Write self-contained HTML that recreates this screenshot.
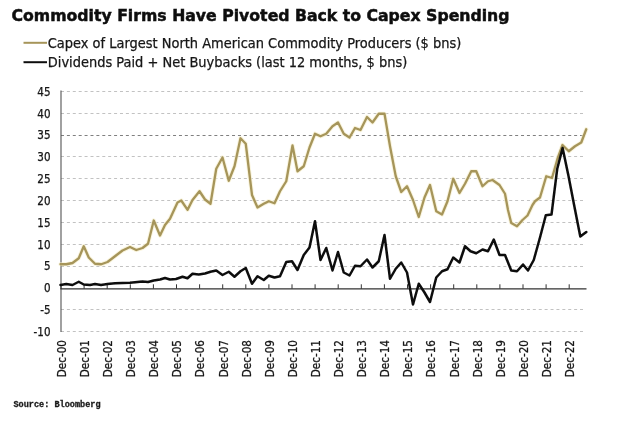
<!DOCTYPE html>
<html><head><meta charset="utf-8"><title>Commodity Firms Have Pivoted Back to Capex Spending</title>
<style>
html,body{margin:0;padding:0;background:#fff;}
body{width:620px;height:422px;overflow:hidden;}
svg{display:block;}
.t{font-family:"DejaVu Sans","Liberation Sans",sans-serif;font-weight:bold;fill:#0a0a0a;stroke:#0a0a0a;stroke-width:0.45;}
.l{font-family:"DejaVu Sans Condensed","DejaVu Sans","Liberation Sans",sans-serif;fill:#151515;stroke:#151515;stroke-width:0.25;}
.s{font-family:"Liberation Mono","DejaVu Sans Mono",monospace;font-weight:bold;fill:#1a1a1a;stroke:#1a1a1a;stroke-width:0.3;}
</style></head><body>
<svg width="620" height="422" viewBox="0 0 620 422">
<defs><filter id="soft" x="-2%" y="-2%" width="104%" height="104%"><feGaussianBlur stdDeviation="0.4"/></filter></defs>
<rect width="620" height="422" fill="#ffffff"/>
<g filter="url(#soft)">
<text class="t" x="11.5" y="20.5" font-size="15.5" textLength="498" lengthAdjust="spacingAndGlyphs">Commodity Firms Have Pivoted Back to Capex Spending</text>
<line x1="23.5" y1="42.8" x2="47" y2="42.8" stroke="#a6955a" stroke-width="2"/>
<text class="l" x="47.8" y="47.5" font-size="14.4" textLength="413.5" lengthAdjust="spacingAndGlyphs">Capex of Largest North American Commodity Producers ($ bns)</text>
<line x1="23.5" y1="62.2" x2="47" y2="62.2" stroke="#111" stroke-width="2"/>
<text class="l" x="47.8" y="67" font-size="14.4" textLength="359.5" lengthAdjust="spacingAndGlyphs">Dividends Paid + Net Buybacks (last 12 months, $ bns)</text>
<line x1="61" y1="331.5" x2="583" y2="331.5" stroke="#c2c2c2" stroke-width="1" stroke-dasharray="3 2.898"/>
<line x1="61" y1="309.5" x2="583" y2="309.5" stroke="#c2c2c2" stroke-width="1" stroke-dasharray="3 2.898"/>
<line x1="61" y1="266.5" x2="583" y2="266.5" stroke="#c2c2c2" stroke-width="1" stroke-dasharray="3 2.898"/>
<line x1="61" y1="244.5" x2="583" y2="244.5" stroke="#c2c2c2" stroke-width="1" stroke-dasharray="3 2.898"/>
<line x1="61" y1="222.5" x2="583" y2="222.5" stroke="#c2c2c2" stroke-width="1" stroke-dasharray="3 2.898"/>
<line x1="61" y1="200.5" x2="583" y2="200.5" stroke="#c2c2c2" stroke-width="1" stroke-dasharray="3 2.898"/>
<line x1="61" y1="178.5" x2="583" y2="178.5" stroke="#c2c2c2" stroke-width="1" stroke-dasharray="3 2.898"/>
<line x1="61" y1="156.5" x2="583" y2="156.5" stroke="#c2c2c2" stroke-width="1" stroke-dasharray="3 2.898"/>
<line x1="61" y1="135.5" x2="583" y2="135.5" stroke="#808080" stroke-width="1" stroke-dasharray="3 2.898"/>
<line x1="61" y1="113.5" x2="583" y2="113.5" stroke="#c2c2c2" stroke-width="1" stroke-dasharray="3 2.898"/>
<line x1="61" y1="91.5" x2="583" y2="91.5" stroke="#c2c2c2" stroke-width="1" stroke-dasharray="3 2.898"/>
<text class="l" x="50.5" y="335.7" font-size="11.5" text-anchor="end">-10</text>
<text class="l" x="50.5" y="313.9" font-size="11.5" text-anchor="end">-5</text>
<text class="l" x="50.5" y="292.1" font-size="11.5" text-anchor="end">0</text>
<text class="l" x="50.5" y="270.3" font-size="11.5" text-anchor="end">5</text>
<text class="l" x="50.5" y="248.5" font-size="11.5" text-anchor="end">10</text>
<text class="l" x="50.5" y="226.6" font-size="11.5" text-anchor="end">15</text>
<text class="l" x="50.5" y="204.8" font-size="11.5" text-anchor="end">20</text>
<text class="l" x="50.5" y="183.0" font-size="11.5" text-anchor="end">25</text>
<text class="l" x="50.5" y="161.2" font-size="11.5" text-anchor="end">30</text>
<text class="l" x="50.5" y="139.4" font-size="11.5" text-anchor="end">35</text>
<text class="l" x="50.5" y="117.5" font-size="11.5" text-anchor="end">40</text>
<text class="l" x="50.5" y="95.7" font-size="11.5" text-anchor="end">45</text>
<line x1="61" y1="90.5" x2="61" y2="332.0" stroke="#555" stroke-width="1.1"/>
<line x1="60.4" y1="288.8" x2="586.5" y2="288.8" stroke="#333" stroke-width="1.2"/>
<line x1="61.0" y1="288.8" x2="61.0" y2="284.3" stroke="#333" stroke-width="1"/>
<line x1="84.1" y1="288.8" x2="84.1" y2="284.3" stroke="#333" stroke-width="1"/>
<line x1="107.2" y1="288.8" x2="107.2" y2="284.3" stroke="#333" stroke-width="1"/>
<line x1="130.3" y1="288.8" x2="130.3" y2="284.3" stroke="#333" stroke-width="1"/>
<line x1="153.4" y1="288.8" x2="153.4" y2="284.3" stroke="#333" stroke-width="1"/>
<line x1="176.5" y1="288.8" x2="176.5" y2="284.3" stroke="#333" stroke-width="1"/>
<line x1="199.6" y1="288.8" x2="199.6" y2="284.3" stroke="#333" stroke-width="1"/>
<line x1="222.7" y1="288.8" x2="222.7" y2="284.3" stroke="#333" stroke-width="1"/>
<line x1="245.8" y1="288.8" x2="245.8" y2="284.3" stroke="#333" stroke-width="1"/>
<line x1="268.9" y1="288.8" x2="268.9" y2="284.3" stroke="#333" stroke-width="1"/>
<line x1="292.0" y1="288.8" x2="292.0" y2="284.3" stroke="#333" stroke-width="1"/>
<line x1="315.1" y1="288.8" x2="315.1" y2="284.3" stroke="#333" stroke-width="1"/>
<line x1="338.2" y1="288.8" x2="338.2" y2="284.3" stroke="#333" stroke-width="1"/>
<line x1="361.3" y1="288.8" x2="361.3" y2="284.3" stroke="#333" stroke-width="1"/>
<line x1="384.4" y1="288.8" x2="384.4" y2="284.3" stroke="#333" stroke-width="1"/>
<line x1="407.5" y1="288.8" x2="407.5" y2="284.3" stroke="#333" stroke-width="1"/>
<line x1="430.6" y1="288.8" x2="430.6" y2="284.3" stroke="#333" stroke-width="1"/>
<line x1="453.7" y1="288.8" x2="453.7" y2="284.3" stroke="#333" stroke-width="1"/>
<line x1="476.8" y1="288.8" x2="476.8" y2="284.3" stroke="#333" stroke-width="1"/>
<line x1="499.9" y1="288.8" x2="499.9" y2="284.3" stroke="#333" stroke-width="1"/>
<line x1="523.0" y1="288.8" x2="523.0" y2="284.3" stroke="#333" stroke-width="1"/>
<line x1="546.1" y1="288.8" x2="546.1" y2="284.3" stroke="#333" stroke-width="1"/>
<line x1="569.2" y1="288.8" x2="569.2" y2="284.3" stroke="#333" stroke-width="1"/>
<text class="l" font-size="11.6" text-anchor="end" transform="translate(65.8,340) rotate(-90)">Dec-00</text>
<text class="l" font-size="11.6" text-anchor="end" transform="translate(88.9,340) rotate(-90)">Dec-01</text>
<text class="l" font-size="11.6" text-anchor="end" transform="translate(112.0,340) rotate(-90)">Dec-02</text>
<text class="l" font-size="11.6" text-anchor="end" transform="translate(135.1,340) rotate(-90)">Dec-03</text>
<text class="l" font-size="11.6" text-anchor="end" transform="translate(158.2,340) rotate(-90)">Dec-04</text>
<text class="l" font-size="11.6" text-anchor="end" transform="translate(181.3,340) rotate(-90)">Dec-05</text>
<text class="l" font-size="11.6" text-anchor="end" transform="translate(204.4,340) rotate(-90)">Dec-06</text>
<text class="l" font-size="11.6" text-anchor="end" transform="translate(227.5,340) rotate(-90)">Dec-07</text>
<text class="l" font-size="11.6" text-anchor="end" transform="translate(250.6,340) rotate(-90)">Dec-08</text>
<text class="l" font-size="11.6" text-anchor="end" transform="translate(273.7,340) rotate(-90)">Dec-09</text>
<text class="l" font-size="11.6" text-anchor="end" transform="translate(296.8,340) rotate(-90)">Dec-10</text>
<text class="l" font-size="11.6" text-anchor="end" transform="translate(319.9,340) rotate(-90)">Dec-11</text>
<text class="l" font-size="11.6" text-anchor="end" transform="translate(343.0,340) rotate(-90)">Dec-12</text>
<text class="l" font-size="11.6" text-anchor="end" transform="translate(366.1,340) rotate(-90)">Dec-13</text>
<text class="l" font-size="11.6" text-anchor="end" transform="translate(389.2,340) rotate(-90)">Dec-14</text>
<text class="l" font-size="11.6" text-anchor="end" transform="translate(412.3,340) rotate(-90)">Dec-15</text>
<text class="l" font-size="11.6" text-anchor="end" transform="translate(435.4,340) rotate(-90)">Dec-16</text>
<text class="l" font-size="11.6" text-anchor="end" transform="translate(458.5,340) rotate(-90)">Dec-17</text>
<text class="l" font-size="11.6" text-anchor="end" transform="translate(481.6,340) rotate(-90)">Dec-18</text>
<text class="l" font-size="11.6" text-anchor="end" transform="translate(504.7,340) rotate(-90)">Dec-19</text>
<text class="l" font-size="11.6" text-anchor="end" transform="translate(527.8,340) rotate(-90)">Dec-20</text>
<text class="l" font-size="11.6" text-anchor="end" transform="translate(550.9,340) rotate(-90)">Dec-21</text>
<text class="l" font-size="11.6" text-anchor="end" transform="translate(574.0,340) rotate(-90)">Dec-22</text>
<polyline fill="none" stroke="#f6efcf" stroke-opacity="0.7" stroke-width="4.2" stroke-linejoin="round" stroke-linecap="round" points="60.5,264.25 66.25,264.25 72.5,263 78.75,258.25 83.75,246.25 88.75,257.5 95,263.75 101.25,264.25 107.5,262 115,256.25 122.5,250.5 130,247 136.25,250 142.5,248 148,243.75 153.75,220.5 160,235.5 165,225 170,218.75 177.5,202.5 181.25,200.5 187.6,209.8 192.5,200 199.5,191.25 205,199.5 210.5,203.75 216.25,168.75 222.5,157.5 228.75,180.75 234.5,166.25 240.5,138.25 245.75,143.75 252,195 257.5,207.5 263.75,203.75 268.75,201.25 274.5,203.25 280,191.25 286.25,181.25 292.5,145.5 297.5,171.25 303.75,166.25 309.5,147.5 315,133.75 320.5,136.25 326.25,133.75 332.5,126.25 338,122.5 343.75,133.75 349.5,137.5 355,128 360.5,130 367,117 372.5,122.5 378.75,113.75 384.5,113.75 390,146.25 395.75,176.25 401.25,192 407,186.25 413,200 418.75,217 424.5,197.5 430,185 436.25,211.25 442,214.5 447.5,201.25 453.25,178.75 459.5,193 465,183.75 471.25,171.25 476.25,171.25 482.5,186.25 488,181.25 492.5,180 499.5,185 505,193.75 508,210 511.25,223 517,226.25 522.5,220 527.5,215.5 532.5,205 535,201.25 540,197.5 546.25,176.25 552,178 557.5,158.75 562.5,145 568.75,151.25 575,146.25 581.25,142.5 586.25,129.25"/>
<polyline fill="none" stroke="#a6955a" stroke-width="2.3" stroke-linejoin="round" stroke-linecap="round" points="60.5,264.25 66.25,264.25 72.5,263 78.75,258.25 83.75,246.25 88.75,257.5 95,263.75 101.25,264.25 107.5,262 115,256.25 122.5,250.5 130,247 136.25,250 142.5,248 148,243.75 153.75,220.5 160,235.5 165,225 170,218.75 177.5,202.5 181.25,200.5 187.6,209.8 192.5,200 199.5,191.25 205,199.5 210.5,203.75 216.25,168.75 222.5,157.5 228.75,180.75 234.5,166.25 240.5,138.25 245.75,143.75 252,195 257.5,207.5 263.75,203.75 268.75,201.25 274.5,203.25 280,191.25 286.25,181.25 292.5,145.5 297.5,171.25 303.75,166.25 309.5,147.5 315,133.75 320.5,136.25 326.25,133.75 332.5,126.25 338,122.5 343.75,133.75 349.5,137.5 355,128 360.5,130 367,117 372.5,122.5 378.75,113.75 384.5,113.75 390,146.25 395.75,176.25 401.25,192 407,186.25 413,200 418.75,217 424.5,197.5 430,185 436.25,211.25 442,214.5 447.5,201.25 453.25,178.75 459.5,193 465,183.75 471.25,171.25 476.25,171.25 482.5,186.25 488,181.25 492.5,180 499.5,185 505,193.75 508,210 511.25,223 517,226.25 522.5,220 527.5,215.5 532.5,205 535,201.25 540,197.5 546.25,176.25 552,178 557.5,158.75 562.5,145 568.75,151.25 575,146.25 581.25,142.5 586.25,129.25"/>
<polyline fill="none" stroke="#0c0c0c" stroke-width="2.5" stroke-linejoin="round" stroke-linecap="round" points="60.5,285 66.25,284 72.5,285 78.75,281.75 83.75,284.5 90,285 95,284 101,285 107.5,284 115,283.25 130,282.75 142.5,281.5 148,282 153.75,280.5 160,279.5 165,278 170,279.5 176,279 182.5,276.75 187.5,278.25 192.5,273.75 198.75,274.5 205,273.5 210.5,271.75 216.25,270.5 222.5,275 228.75,271.75 234.5,276.75 240.5,271.25 245.75,268 252,283.75 257.5,276.25 263.75,280 268.75,275.75 274.5,277.5 280,276.25 286.25,262 292,261.25 297.5,270 303.75,255 309.5,247.5 315,221.25 320.5,260 326.25,248 332.5,270.5 338,252 343.75,272.5 349.5,275.5 355,265.75 360.5,266.25 367,259.5 372.5,267.5 378.75,261.25 384.5,235 390,278.75 395.75,268.75 401.25,262.5 407,272.5 413,304.5 418.75,283.75 424.5,292.5 430,302 436.25,277.5 442,271.25 447.5,269.25 453.25,257.5 459.5,262.5 465,246.25 470.5,251.25 476.25,253.25 482.5,249.5 488,251.25 493.75,239.5 499.5,255 505,255 511.25,270.5 517,271.25 523,264.5 528,270.5 533.75,260 540,237.5 545.8,215.2 551.5,214.6 557.2,169 562.6,148 568.4,175.5 574.2,205.5 580.3,236.6 586.3,232"/>
<text class="s" x="13.5" y="407" font-size="8.6" textLength="87" lengthAdjust="spacingAndGlyphs">Source: Bloomberg</text>
</g>
</svg></body></html>
